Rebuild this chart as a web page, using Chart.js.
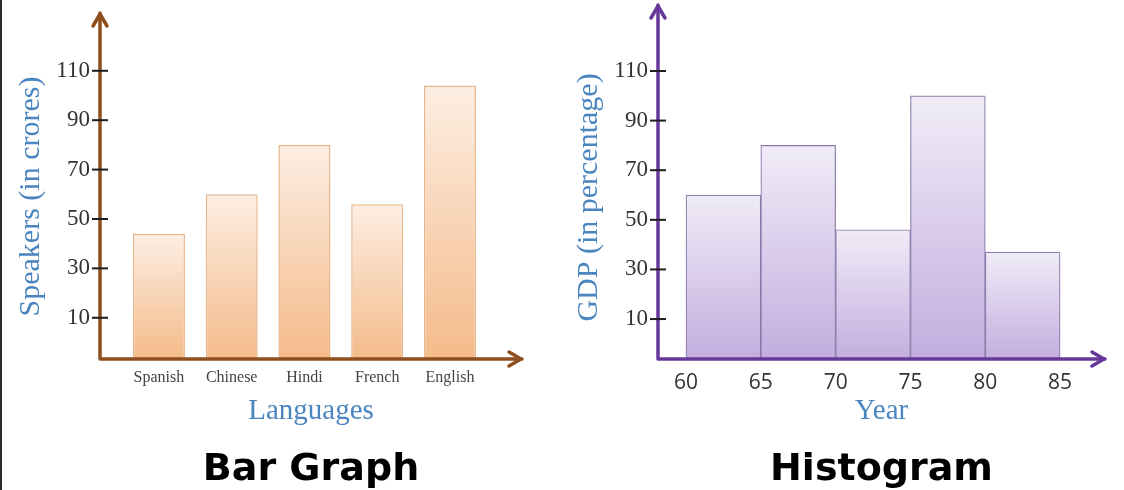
<!DOCTYPE html>
<html>
<head>
<meta charset="utf-8">
<script src="https://cdn.jsdelivr.net/npm/chart.js@4.4.1/dist/chart.umd.min.js"></script>
<style>
body { margin: 0; background: #fff; width: 1124px; height: 490px; overflow: hidden; position: relative; }
#edge { position: absolute; left: 0; top: 0; width: 2px; height: 490px; background: #2a2a2a; }
#barChart { position: absolute; left: 0; top: 0; }
#histChart { position: absolute; left: 560px; top: 0; }
</style>
</head>
<body>
<div id="edge"></div>
<canvas id="barChart" width="560" height="490"></canvas>
<canvas id="histChart" width="564" height="490"></canvas>
<script>
const languages = ['Spanish', 'Chinese', 'Hindi', 'French', 'English']
const speakers = [44, 60, 80, 56, 104]
const yearEdges = [60, 65, 70, 75, 80, 85]
const gdp = [60, 80, 46, 100, 37]
const valueTicks = [10, 30, 50, 70, 90, 110]

// axis lines with arrow heads + tick marks crossing the y axis
const axisArrows = {
    id: 'axisArrows',
    afterDatasetsDraw(chart, args, opts) {
        const { ctx, chartArea, scales } = chart
        const x0 = chartArea.left
        const y0 = chartArea.bottom
        const topY = chartArea.top - opts.extendTop
        const rightX = chartArea.right
        ctx.save()
        ctx.strokeStyle = opts.color
        ctx.lineWidth = 3.5
        ctx.lineCap = 'round'
        ctx.lineJoin = 'round'
        ctx.beginPath()
        ctx.moveTo(x0, topY)
        ctx.lineTo(x0, y0)
        ctx.lineTo(rightX, y0)
        ctx.stroke()
        ctx.beginPath()
        ctx.moveTo(x0 - 7, topY + 13)
        ctx.lineTo(x0, topY + 1)
        ctx.lineTo(x0 + 7, topY + 13)
        ctx.moveTo(rightX - 13, y0 - 7)
        ctx.lineTo(rightX - 1, y0)
        ctx.lineTo(rightX - 13, y0 + 7)
        ctx.stroke()

        ctx.strokeStyle = '#1e1e1e'
        ctx.lineWidth = 2
        ctx.lineCap = 'butt'
        scales.y.ticks.forEach(t => {
            const y = scales.y.getPixelForValue(t.value)
            ctx.beginPath()
            ctx.moveTo(x0 - 8, y)
            ctx.lineTo(x0 + 8, y)
            ctx.stroke()
        })
        ctx.restore()
    }
}

function barGradient(ctx, light, dark) {
    const chart = ctx.chart
    const area = chart.chartArea
    if (!area || ctx.type !== 'data') return light
    const top = chart.scales.y.getPixelForValue(ctx.parsed.y)
    const g = chart.ctx.createLinearGradient(0, top, 0, area.bottom)
    g.addColorStop(0, light)
    g.addColorStop(1, dark)
    return g
}

const titleBlue = '#4a85c0'

new Chart(document.getElementById('barChart'), {
    type: 'bar',
    data: {
        datasets: [{
            data: speakers.map((v, i) => ({ x: i + 1, y: v })),
            base: -6.7,
            backgroundColor: ctx => barGradient(ctx, '#fdeee3', '#f4bb8a'),
            borderColor: '#e8b68c',
            borderWidth: 1.5,
            barPercentage: 0.715,
            categoryPercentage: 1
        }]
    },
    options: {
        responsive: false,
        animation: false,
        layout: { padding: { left: 0, right: 38, top: 34, bottom: 0 } },
        plugins: {
            legend: { display: false },
            tooltip: { enabled: false },
            title: {
                display: true, text: 'Bar Graph', position: 'bottom', color: '#000', fullSize: false,
                font: { family: 'DejaVu Sans', size: 38, weight: 'bold', lineHeight: 1.05 },
                padding: { top: 0, bottom: 0 }
            },
            axisArrows: { color: '#8e4f1f', extendTop: 21 }
        },
        scales: {
            x: {
                type: 'linear', min: 0.19, max: 5.99, offset: false,
                grid: { display: false, drawTicks: false },
                border: { display: false },
                afterBuildTicks: s => { s.ticks = languages.map((_, i) => ({ value: i + 1 })) },
                afterFit: s => { s.height = 91.1 },
                ticks: {
                    callback: v => languages[v - 1], padding: 9, color: '#444',
                    autoSkip: false, maxRotation: 0,
                    font: { family: 'Liberation Serif', size: 16 }
                },
                title: {
                    display: true, text: 'Languages', color: titleBlue,
                    font: { family: 'Liberation Serif', size: 29 },
                    padding: { top: 0, bottom: 21.5 }
                }
            },
            y: {
                min: -6.7, max: 124.9,
                grid: { display: false, drawTicks: false },
                border: { display: false },
                afterBuildTicks: s => { s.ticks = valueTicks.map(v => ({ value: v })) },
                afterFit: s => { s.width = 100 },
                ticks: { padding: 10, color: '#333', font: { family: 'Liberation Serif', size: 23 } },
                title: {
                    display: true, text: 'Speakers (in crores)', color: titleBlue,
                    font: { family: 'Liberation Serif', size: 30 },
                    padding: { top: 13, bottom: 0 }
                }
            }
        }
    },
    plugins: [axisArrows]
})

new Chart(document.getElementById('histChart'), {
    type: 'bar',
    data: {
        datasets: [{
            data: gdp.map((v, i) => ({ x: (yearEdges[i] + yearEdges[i + 1]) / 2, y: v })),
            base: -6.1,
            backgroundColor: ctx => barGradient(ctx, '#f0ecf7', '#c3aedf'),
            borderColor: '#8c7caa',
            borderWidth: 1.2,
            barPercentage: 1,
            categoryPercentage: 1
        }]
    },
    options: {
        responsive: false,
        animation: false,
        layout: { padding: { left: 0, right: 19, top: 36, bottom: 0 } },
        plugins: {
            legend: { display: false },
            tooltip: { enabled: false },
            title: {
                display: true, text: 'Histogram', position: 'bottom', color: '#000', fullSize: false,
                font: { family: 'DejaVu Sans', size: 38, weight: 'bold', lineHeight: 1.05 },
                padding: { top: 0, bottom: 0 }
            },
            axisArrows: { color: '#66389a', extendTop: 31 }
        },
        scales: {
            x: {
                type: 'linear', min: 58.13, max: 88, offset: false,
                grid: { display: false, drawTicks: false },
                border: { display: false },
                afterBuildTicks: s => { s.ticks = yearEdges.map(v => ({ value: v })) },
                afterFit: s => { s.height = 91.1 },
                ticks: {
                    padding: 11, color: '#333', autoSkip: false, maxRotation: 0,
                    font: { family: 'Open Sans', size: 21 }
                },
                title: {
                    display: true, text: 'Year', color: titleBlue,
                    font: { family: 'Liberation Serif', size: 29 },
                    padding: { top: 0, bottom: 21.5 }
                }
            },
            y: {
                min: -6.1, max: 124.1,
                grid: { display: false, drawTicks: false },
                border: { display: false },
                afterBuildTicks: s => { s.ticks = valueTicks.map(v => ({ value: v })) },
                afterFit: s => { s.width = 98 },
                ticks: { padding: 10, color: '#333', font: { family: 'Liberation Serif', size: 23 } },
                title: {
                    display: true, text: 'GDP (in percentage)', color: titleBlue,
                    font: { family: 'Liberation Serif', size: 30 },
                    padding: { top: 11, bottom: 0 }
                }
            }
        }
    },
    plugins: [axisArrows]
})
</script>
</body>
</html>
